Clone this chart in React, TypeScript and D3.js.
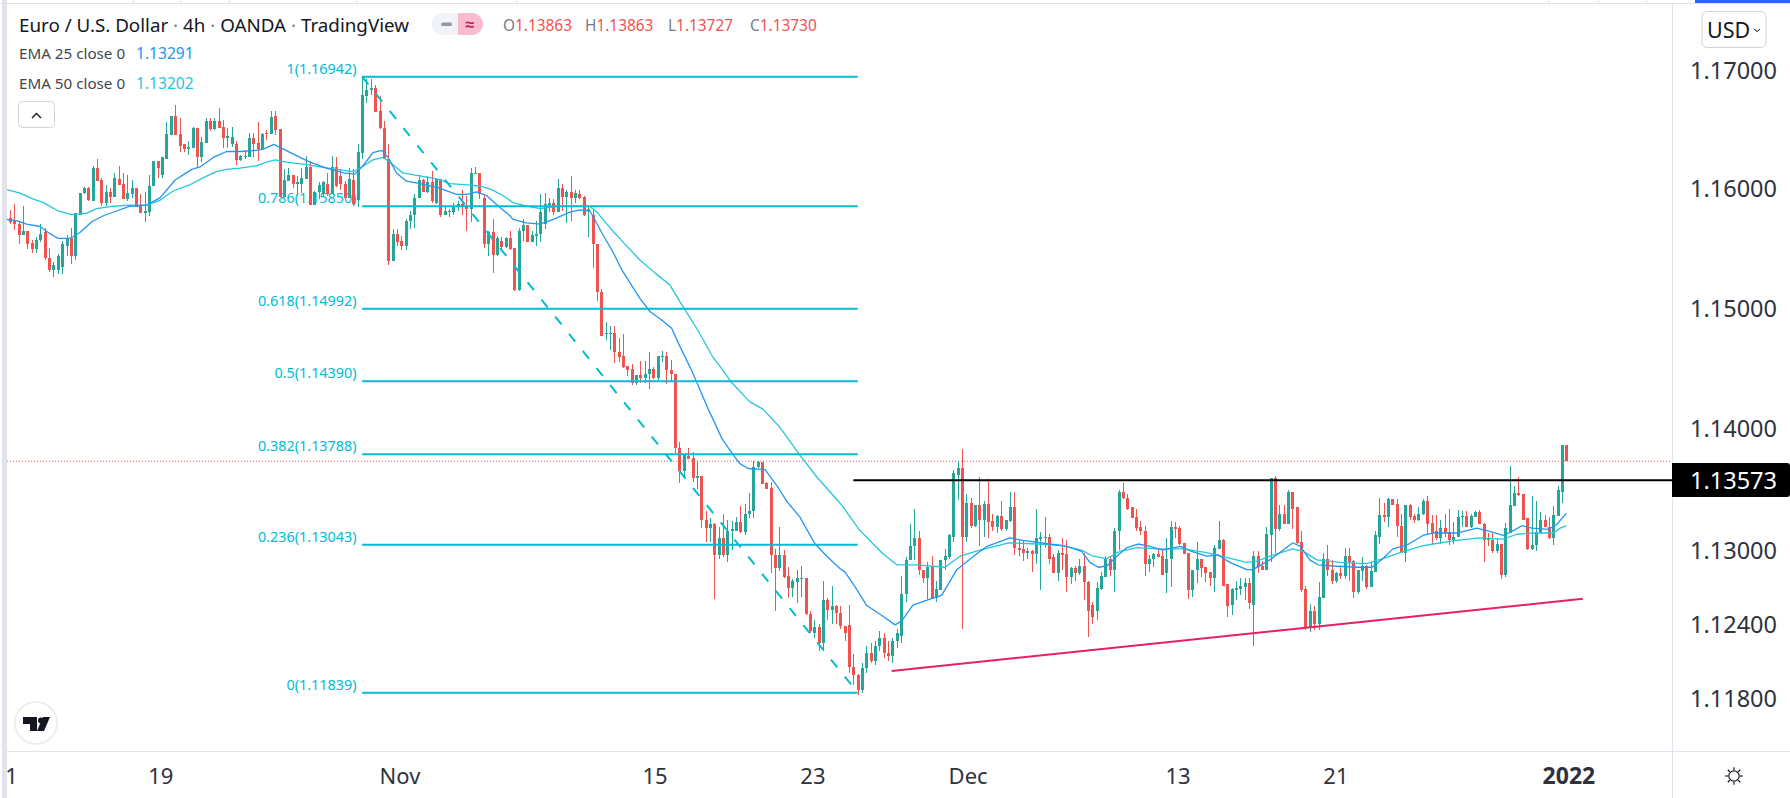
import React from "react";
import * as d3 from "d3";

// Candle values in pips (price x 10000), one entry per 4h bar.
const opens = [
11575,11573,11570,11561,11564,11554,11549,11557,11563,11542,
11532,11532,11534,11552,11558,11543,11578,11596,11600,11589,
11617,11607,11588,11597,11593,11608,11604,11591,11595,11600,
11586,11579,11580,11602,11623,11611,11625,11645,11661,11646,
11637,11633,11634,11651,11626,11638,11657,11650,11657,11652,
11642,11637,11637,11624,11626,11626,11642,11638,11633,11647,
11646,11661,11650,11593,11606,11611,11604,11604,11608,11618,
11586,11597,11595,11604,11595,11618,11610,11604,11592,11607,
11590,11630,11678,11683,11685,11665,11651,11625,11539,11562,
11556,11552,11573,11578,11592,11607,11597,11605,11588,11608,
11578,11580,11580,11584,11587,11584,11583,11612,11613,11592,
11553,11563,11544,11556,11551,11558,11550,11515,11564,11569,
11555,11560,11562,11570,11586,11588,11580,11600,11593,11597,
11592,11595,11593,11582,11578,11553,11513,11478,11479,11479,
11463,11460,11452,11449,11438,11444,11442,11445,11449,11442,
11459,11460,11448,11445,11384,11365,11377,11376,11359,11361,
11325,11318,11321,11296,11310,11296,11316,11316,11323,11315,
11330,11332,11368,11372,11355,11351,11296,11285,11296,11279,
11269,11274,11276,11277,11248,11232,11237,11224,11259,11251,
11254,11249,11238,11239,11205,11198,11186,11204,11216,11210,
11222,11228,11216,11214,11226,11230,11264,11292,11303,11310,
11284,11277,11286,11261,11267,11292,11294,11311,11362,11367,
11311,11339,11320,11337,11325,11338,11324,11319,11328,11317,
11324,11335,11302,11301,11298,11299,11297,11309,11310,11311,
11294,11281,11298,11297,11278,11285,11281,11287,11274,11255,
11250,11268,11278,11293,11284,11316,11348,11343,11335,11327,
11319,11316,11289,11293,11297,11295,11281,11293,11319,11318,
11306,11298,11267,11284,11293,11286,11282,11277,11301,11308,
11272,11255,11267,11268,11270,11273,11255,11295,11287,11284,
11312,11359,11317,11330,11321,11348,11335,11307,11268,11237,
11250,11240,11261,11293,11284,11275,11281,11279,11295,11291,
11266,11283,11287,11270,11282,11311,11329,11327,11342,11338,
11320,11298,11337,11328,11325,11330,11340,11322,11316,11310,
11318,11315,11308,11311,11327,11328,11319,11327,11331,11321,
11310,11308,11299,11305,11280,11314,11336,11347,11346,11326,
11301,11304,11314,11325,11319,11310,11328,11348,11386];
const highs = [
11582,11587,11572,11585,11564,11557,11559,11570,11567,11550,
11538,11545,11556,11561,11567,11579,11596,11601,11601,11619,
11625,11609,11603,11600,11613,11619,11613,11611,11607,11600,
11595,11597,11611,11623,11623,11626,11656,11661,11670,11659,
11637,11640,11652,11651,11643,11659,11659,11659,11668,11658,
11651,11652,11640,11628,11632,11647,11647,11656,11647,11649,
11665,11665,11650,11616,11617,11611,11610,11617,11627,11623,
11598,11605,11606,11613,11627,11626,11616,11606,11617,11616,
11637,11694,11692,11692,11687,11678,11657,11637,11566,11566,
11560,11574,11581,11595,11611,11608,11610,11615,11609,11608,
11584,11583,11588,11589,11599,11594,11617,11618,11613,11595,
11564,11574,11560,11559,11559,11564,11550,11567,11574,11569,
11564,11573,11595,11596,11592,11591,11608,11604,11599,11610,
11599,11599,11594,11584,11583,11553,11516,11488,11485,11485,
11475,11478,11452,11453,11444,11456,11456,11463,11451,11460,
11464,11463,11457,11445,11389,11379,11384,11381,11373,11361,
11332,11326,11322,11319,11330,11325,11324,11327,11336,11338,
11347,11373,11373,11372,11356,11356,11301,11319,11300,11286,
11276,11284,11287,11277,11250,11243,11240,11275,11261,11271,
11255,11254,11238,11255,11215,11199,11208,11222,11224,11226,
11234,11232,11226,11228,11236,11279,11294,11321,11334,11316,
11284,11290,11295,11275,11292,11301,11313,11366,11373,11383,
11346,11343,11337,11360,11340,11358,11330,11329,11340,11325,
11348,11348,11309,11308,11302,11300,11334,11315,11327,11313,
11297,11300,11310,11308,11286,11287,11293,11298,11275,11258,
11274,11282,11295,11295,11318,11349,11355,11346,11335,11334,
11324,11320,11296,11298,11302,11300,11310,11324,11323,11320,
11306,11298,11284,11307,11293,11286,11282,11304,11324,11309,
11272,11269,11275,11277,11277,11277,11299,11299,11291,11319,
11359,11361,11337,11337,11349,11348,11335,11316,11271,11256,
11254,11274,11298,11304,11292,11282,11287,11302,11302,11292,
11284,11294,11288,11290,11316,11343,11339,11343,11342,11342,
11330,11337,11338,11330,11335,11342,11344,11329,11329,11325,
11330,11334,11323,11333,11332,11332,11330,11332,11333,11322,
11314,11315,11310,11305,11322,11369,11353,11360,11346,11326,
11344,11340,11331,11329,11327,11336,11353,11386,11386];
const lows = [
11570,11565,11553,11561,11549,11546,11546,11555,11540,11530,
11526,11528,11528,11543,11537,11540,11578,11595,11589,11589,
11606,11585,11585,11588,11593,11603,11591,11589,11592,11584,
11579,11572,11577,11602,11609,11609,11625,11645,11645,11631,
11631,11628,11634,11618,11622,11638,11648,11649,11651,11634,
11634,11635,11620,11623,11625,11626,11626,11623,11633,11641,
11646,11645,11593,11593,11606,11600,11594,11596,11608,11586,
11586,11591,11594,11594,11595,11601,11599,11592,11592,11585,
11584,11625,11672,11679,11664,11650,11625,11536,11539,11552,
11548,11548,11566,11567,11592,11597,11596,11588,11587,11576,
11578,11576,11578,11581,11578,11564,11572,11612,11591,11550,
11543,11529,11543,11549,11550,11548,11514,11514,11556,11555,
11555,11552,11555,11566,11580,11578,11580,11581,11571,11573,
11588,11591,11577,11559,11533,11506,11477,11473,11465,11454,
11455,11450,11443,11436,11436,11438,11438,11433,11441,11440,
11455,11437,11439,11380,11355,11359,11375,11356,11350,11318,
11307,11307,11260,11293,11294,11290,11300,11316,11314,11312,
11326,11326,11367,11354,11350,11281,11250,11283,11277,11261,
11262,11257,11262,11247,11232,11228,11218,11218,11243,11240,
11240,11236,11226,11200,11190,11182,11184,11200,11208,11206,
11218,11212,11210,11208,11220,11224,11258,11292,11292,11280,
11273,11260,11260,11258,11267,11284,11293,11307,11341,11236,
11307,11318,11319,11303,11311,11310,11316,11314,11316,11316,
11323,11296,11295,11291,11293,11282,11289,11267,11302,11289,
11281,11275,11284,11266,11272,11275,11280,11259,11229,11240,
11243,11267,11278,11279,11266,11300,11342,11333,11326,11316,
11312,11279,11282,11286,11294,11280,11265,11270,11310,11304,
11297,11260,11262,11273,11278,11274,11271,11266,11301,11271,
11245,11247,11259,11263,11259,11252,11222,11281,11284,11284,
11290,11298,11316,11321,11321,11317,11305,11266,11235,11233,
11235,11235,11261,11279,11272,11273,11276,11276,11275,11261,
11264,11275,11268,11270,11282,11305,11323,11319,11337,11311,
11298,11290,11325,11322,11324,11329,11313,11304,11308,11305,
11311,11304,11305,11311,11319,11319,11318,11327,11321,11290,
11303,11298,11298,11276,11278,11314,11336,11344,11325,11300,
11300,11299,11314,11319,11309,11304,11328,11339,11373];
const closes = [
11572,11570,11561,11564,11553,11549,11557,11562,11542,11532,
11536,11543,11553,11558,11543,11579,11596,11600,11590,11617,
11606,11588,11597,11593,11609,11603,11591,11596,11600,11584,
11579,11581,11602,11623,11617,11626,11646,11661,11645,11636,
11633,11635,11651,11626,11639,11657,11650,11657,11651,11642,
11644,11643,11624,11627,11627,11642,11637,11633,11646,11646,
11660,11649,11593,11607,11611,11604,11605,11609,11618,11586,
11597,11603,11605,11595,11618,11602,11604,11592,11608,11587,
11631,11679,11683,11685,11664,11651,11625,11539,11562,11555,
11552,11573,11578,11592,11607,11597,11605,11589,11608,11578,
11581,11581,11584,11587,11584,11583,11613,11613,11595,11553,
11563,11544,11558,11551,11558,11549,11515,11564,11569,11555,
11561,11562,11580,11587,11588,11580,11600,11593,11597,11592,
11596,11592,11578,11583,11553,11513,11477,11479,11479,11463,
11459,11451,11448,11438,11444,11442,11445,11449,11442,11460,
11460,11448,11445,11384,11365,11378,11375,11359,11361,11325,
11318,11321,11296,11310,11296,11316,11317,11323,11315,11330,
11332,11368,11372,11354,11350,11296,11285,11296,11278,11269,
11275,11277,11277,11248,11234,11237,11224,11259,11251,11254,
11249,11238,11232,11205,11198,11186,11204,11216,11210,11222,
11228,11216,11214,11226,11232,11264,11292,11303,11310,11284,
11277,11286,11260,11268,11292,11295,11312,11363,11367,11311,
11339,11320,11337,11325,11338,11323,11319,11328,11317,11325,
11335,11302,11300,11298,11299,11297,11310,11311,11311,11293,
11281,11298,11296,11278,11285,11281,11287,11274,11250,11245,
11269,11279,11293,11284,11316,11348,11343,11334,11326,11318,
11316,11289,11293,11297,11294,11280,11293,11319,11317,11305,
11297,11267,11284,11293,11285,11281,11277,11302,11308,11271,
11254,11268,11269,11271,11273,11257,11295,11286,11284,11313,
11359,11317,11330,11321,11348,11334,11306,11267,11237,11250,
11240,11262,11293,11284,11275,11281,11279,11295,11290,11266,
11284,11287,11270,11283,11312,11329,11327,11342,11337,11320,
11298,11337,11327,11325,11330,11340,11321,11314,11310,11318,
11314,11308,11311,11327,11328,11319,11328,11331,11321,11308,
11308,11299,11305,11280,11318,11337,11347,11345,11325,11301,
11304,11315,11325,11319,11310,11329,11349,11386,11373];

// Moving averages: bar position and value in pips.
const ema25Bars = [-0.7,1.5,3.8,6.9,9.2,11.1,13.8,16.1,18.8,21.5,24.5,27.6,31.4,34.5,38,41.8,43.7,46.8,49.8,52.9,56.7,58.3,60.7,62.9,66.7,69,72.8,76.7,79.3,81.2,83.5,85.5,87,88.9,91.2,94.3,98.1,102.7,105,107.3,109.6,112.7,115,115.7,118.8,121.9,125,128.8,131.1,133.4,134.2,136.1,138.8,140.7,142.6,144.9,147.2,149.9,152.2,154.1,156.8,158,160.6,162.2,163.7,166.4,167.9,169.8,173.7,176.4,178.7,181.7,185.2,187.9,190.9,192.1,194.4,197,200.8,203.6,205.1,207.7,211.6,214.3,217.8,219.2,222.4,224.7,227.7,230,233,239.2,243.1,246.5,248.4,250.3,252.3,254.6,256.9,259.5,262.2,265.2,269.2,271.8,275.3,277.9,280.6,284.5,285.9,289.8,292.5,295.1,296.8,299,300.9,304.4,309.8,313.3,315.8,318.1,321.3,325,327.3,332.8,337.4,339.7,343.5,345.8,347.8,350.1,353.8,355.8,357,358];
const ema25Values = [11574,11573,11570,11568,11562,11558,11558,11563,11572,11577,11581,11585,11586,11592,11607,11616,11618,11626,11631,11631,11632,11633,11637,11633,11626,11622,11617,11613,11612,11619,11630,11632,11626,11613,11606,11604,11601,11595,11595,11597,11594,11584,11577,11574,11571,11570,11574,11580,11582,11581,11576,11563,11546,11532,11521,11508,11497,11490,11483,11468,11448,11438,11416,11404,11392,11378,11371,11367,11366,11353,11340,11327,11305,11295,11285,11282,11270,11255,11246,11239,11242,11255,11260,11263,11284,11288,11297,11303,11307,11310,11308,11305,11303,11299,11290,11286,11287,11295,11302,11305,11303,11300,11303,11299,11295,11296,11290,11284,11284,11292,11299,11306,11303,11292,11288,11287,11286,11286,11293,11301,11304,11312,11314,11314,11318,11316,11312,11316,11320,11318,11317,11321,11326,11330];
const ema50Bars = [-0.7,2.3,5.4,7.7,11.1,14.2,17.6,19.9,23.8,27.6,31.4,34.5,37.6,41.4,44.5,47.5,49.8,52.9,56.7,59,61,63.6,68.3,71.3,75,79,80.9,83.5,85.8,87.4,90.4,93.6,98.2,101.2,105.1,108.1,110.8,113.4,115.7,118.9,121.9,126.5,133.4,135,138,141.5,144.9,148.4,151.8,154.8,158.3,161.7,164,166,170.2,173.2,177.1,181.7,185.6,191.3,195.5,200.8,204,208.6,215.1,218.5,223.1,227.7,229.6,236.2,241.5,246.5,249.1,252.3,255.3,259.2,263.8,269.8,275.3,284.5,286.8,291.4,295.1,297.5,300.6,306,312.1,315.8,319.8,324.4,327.3,332.8,338.1,343.5,346.6,350.4,355,356.6,358];
const ema50Values = [11599,11596,11591,11588,11581,11578,11579,11583,11585,11586,11586,11590,11598,11603,11609,11614,11616,11617,11619,11622,11624,11622,11620,11618,11616,11614,11618,11624,11626,11622,11613,11611,11608,11604,11603,11602,11599,11594,11588,11585,11583,11585,11585,11580,11567,11553,11540,11529,11519,11501,11481,11459,11448,11438,11422,11416,11401,11378,11360,11337,11316,11297,11288,11288,11286,11295,11300,11304,11306,11305,11304,11300,11295,11293,11299,11302,11301,11301,11298,11290,11291,11297,11301,11299,11292,11290,11289,11293,11298,11303,11305,11308,11310,11309,11313,11314,11314,11318,11320];

// Fibonacci retracement levels drawn between the high bar and the low bar.
const fibRatios = ["1", "0.786", "0.618", "0.5", "0.382", "0.236", "0"];
const fibPrices = [1.16942, 1.1585, 1.14992, 1.1439, 1.13788, 1.13043, 1.11839];
const fibStartBar = 81;
const fibEndBar = 195;

const priceTicks = [1.17, 1.16, 1.15, 1.14, 1.13, 1.124, 1.118];
const timeLabels = ["1", "19", "Nov", "15", "23", "Dec", "13", "21", "2022"];
const timeBars = [0.35, 34.7, 89.7, 148.4, 184.7, 220.4, 268.7, 305, 358.6];

const horizontalLevel = 1.13573;
const horizontalStartBar = 194;
const lastPrice = 1.1373;
const trendBars = [202.8, 361.8];
const trendPrices = [1.12015, 1.12602];

const UP = "#26a69a";
const DOWN = "#ef5350";
const FIB = "#00bcd4";
const FONT = "'Noto Sans', sans-serif";
const AXIS_LINE = "#e0e3eb";
const AXIS_X = 1672;

const x = d3.scaleLinear().domain([0, 358]).range([10, 1566.3]);
const y = d3.scaleLog().domain([1.16942, 1.11839]).range([76.7, 692.7]);
const py = (pips: number) => y(pips / 10000);

const emaLine = (bars: number[], values: number[]) =>
  d3
    .line<number>()
    .x((b) => x(b))
    .y((_, i) => py(values[i]))(bars) as string;

function TradingViewLogo() {
  return (
    <g>
      <ellipse cx={36} cy={723} rx={21} ry={21} fill="#fff" stroke="#e9eaed" strokeWidth={1.5} />
      <path d="M23 717h14v14h-7v-7h-7z" fill="#131722" />
      <circle cx={41} cy={720.5} r={3} fill="#131722" />
      <path d="M43 717h7l-6 14h-7z" fill="#131722" />
    </g>
  );
}

function Gear() {
  const rays = d3.range(8).map((i) => (i * Math.PI) / 4);
  return (
    <g stroke="#131722" strokeWidth={1.2} fill="none">
      <circle cx={1734} cy={776} r={5.2} />
      {rays.map((a, i) => (
        <line key={i} x1={1734 + 6 * Math.cos(a)} y1={776 + 6 * Math.sin(a)} x2={1734 + 8.8 * Math.cos(a)} y2={776 + 8.8 * Math.sin(a)} />
      ))}
    </g>
  );
}

export default function App() {
  const fx0 = x(fibStartBar);
  const fx1 = x(fibEndBar);
  return (
    <svg
      width={1790}
      height={798}
      viewBox="0 0 1790 798"
      style={{ position: "fixed", left: 0, top: 0, background: "#fff", fontFamily: FONT }}
    >
      <defs>
        <clipPath id="pane">
          <rect x={7} y={4} width={AXIS_X - 7} height={794} />
        </clipPath>
      </defs>
      <rect width={1790} height={798} fill="#fff" />

      {/* window frame */}
      <rect x={2} y={0} width={5} height={798} fill={AXIS_LINE} />
      <rect x={0} y={3} width={1790} height={1} fill={AXIS_LINE} />
      {[133, 180, 229, 356, 516, 1548, 1598, 1646].map((tx) => (
        <rect key={tx} x={tx} y={0} width={1} height={3} fill={AXIS_LINE} />
      ))}
      <rect x={1695} y={0} width={95} height={3} fill="#2962ff" />
      <rect x={AXIS_X} y={4} width={1} height={794} fill={AXIS_LINE} />
      <rect x={7} y={751} width={1783} height={1} fill={AXIS_LINE} />

      {/* last price */}
      <line
        x1={7}
        x2={AXIS_X}
        y1={y(lastPrice)}
        y2={y(lastPrice)}
        stroke={DOWN}
        strokeWidth={1}
        strokeDasharray="1 2"
      />

      {/* fib labels sit under the candles */}
      {fibPrices.map((p, i) => (
        <text key={i} x={fx0 - 5.5} y={y(p) - 8.5} textAnchor="end" dominantBaseline="central" fontSize={14.4} fill="#00bcd4">
          {`${fibRatios[i]}(${p.toFixed(5)})`}
        </text>
      ))}

      {/* candles */}
      <g>
        {opens.map((o, i) => {
          const c = closes[i];
          const color = c >= o ? UP : DOWN;
          const cx = Math.round(x(i));
          const top = py(Math.max(o, c));
          const bottom = py(Math.min(o, c));
          return (
            <g key={i} fill={color} shapeRendering="crispEdges">
              <rect x={cx} y={py(highs[i])} width={1} height={Math.max(py(lows[i]) - py(highs[i]), 1)} />
              <rect x={cx - 1} y={top} width={3} height={Math.max(bottom - top, 1)} />
            </g>
          );
        })}
      </g>

      {/* moving averages */}
      <g clipPath="url(#pane)" fill="none" strokeWidth={1.3} strokeLinejoin="round">
        <path d={emaLine(ema50Bars, ema50Values)} stroke="#26c6da" />
        <path d={emaLine(ema25Bars, ema25Values)} stroke="#2196f3" />
      </g>

      {/* fib lines */}
      {fibPrices.map((p, i) => (
        <line key={i} x1={fx0} x2={fx1} y1={y(p)} y2={y(p)} stroke={FIB} strokeWidth={2} />
      ))}
      <line
        x1={fx0}
        y1={y(fibPrices[0])}
        x2={fx1}
        y2={y(fibPrices[fibPrices.length - 1])}
        stroke={FIB}
        strokeWidth={2}
        strokeDasharray="10 12"
      />

      {/* drawn lines */}
      <line x1={x(horizontalStartBar)} x2={AXIS_X} y1={y(horizontalLevel)} y2={y(horizontalLevel)} stroke="#000" strokeWidth={2} />
      <line x1={x(trendBars[0])} y1={y(trendPrices[0])} x2={x(trendBars[1])} y2={y(trendPrices[1])} stroke="#e91e63" strokeWidth={2} />

      {/* legend */}
      <text x={19} y={25} dominantBaseline="central" fontSize={18.8} fill="#131722">
        Euro / U.S. Dollar <tspan fill="#787b86">·</tspan> 4h <tspan fill="#787b86">·</tspan> OANDA <tspan fill="#787b86">·</tspan> TradingView
      </text>
      <path d="M443 13h15v22h-15a11 11 0 0 1 0-22z" fill="#f0f3fa" />
      <path d="M458 13h14a11 11 0 0 1 0 22h-14z" fill="#f8bbd0" />
      <rect x={441} y={22.5} width={11} height={3.5} rx={1.7} fill="#9598a1" />
      <text x={470} y={24} textAnchor="middle" dominantBaseline="central" fontSize={16} fontWeight={700} fill="#c2185b">≈</text>
      {[
        ["O", "1.13863", 503],
        ["H", "1.13863", 585],
        ["L", "1.13727", 668],
        ["C", "1.13730", 750],
      ].map(([k, v, tx]) => (
        <text key={k as string} x={tx as number} y={25} dominantBaseline="central" fontSize={15.4} fill={DOWN}>
          <tspan fill="#787b86">{k}</tspan>
          {v}
        </text>
      ))}
      <text x={19} y={53} dominantBaseline="central" fontSize={15.2} fill="#434651">EMA 25 close 0</text>
      <text x={136} y={53} dominantBaseline="central" fontSize={15.6} fill="#2196f3">1.13291</text>
      <text x={19} y={83} dominantBaseline="central" fontSize={15.2} fill="#434651">EMA 50 close 0</text>
      <text x={136} y={83} dominantBaseline="central" fontSize={15.6} fill="#26c6da">1.13202</text>
      <rect x={18.5} y={101.5} width={36} height={26} rx={4} fill="#fff" stroke="#d1d4dc" />
      <path d="M32 118l4.5-4.5 4.5 4.5" fill="none" stroke="#131722" strokeWidth={1.4} />

      <TradingViewLogo />

      {/* price axis */}
      <rect x={1702} y={11.5} width={64} height={36} rx={5} fill="#fff" stroke="#d1d4dc" />
      <text x={1707} y={29.5} dominantBaseline="central" fontSize={21.5} fill="#131722">USD</text>
      <path d="M1754 29l3 2.5 3-2.5" fill="none" stroke="#131722" strokeWidth={1} />
      {priceTicks.map((t) => (
        <text key={t} x={1777} y={y(t)} textAnchor="end" dominantBaseline="central" fontSize={23.5} fill="#2f323d">
          {t.toFixed(5)}
        </text>
      ))}
      <path d={`M${AXIS_X} 463H1787a3 3 0 0 1 3 3V494a3 3 0 0 1-3 3H${AXIS_X}z`} fill="#000" />
      <text x={1777} y={y(horizontalLevel)} textAnchor="end" dominantBaseline="central" fontSize={23.5} fill="#fff">
        {horizontalLevel.toFixed(5)}
      </text>

      {/* time axis */}
      {timeLabels.map((t, i) => (
        <text
          key={t}
          x={x(timeBars[i])}
          y={775}
          textAnchor="middle"
          dominantBaseline="central"
          fontSize={t === "2022" ? 23 : 22}
          fontWeight={t === "2022" ? 700 : 400}
          fill="#2f323d"
        >
          {t}
        </text>
      ))}
      <Gear />
    </svg>
  );
}
